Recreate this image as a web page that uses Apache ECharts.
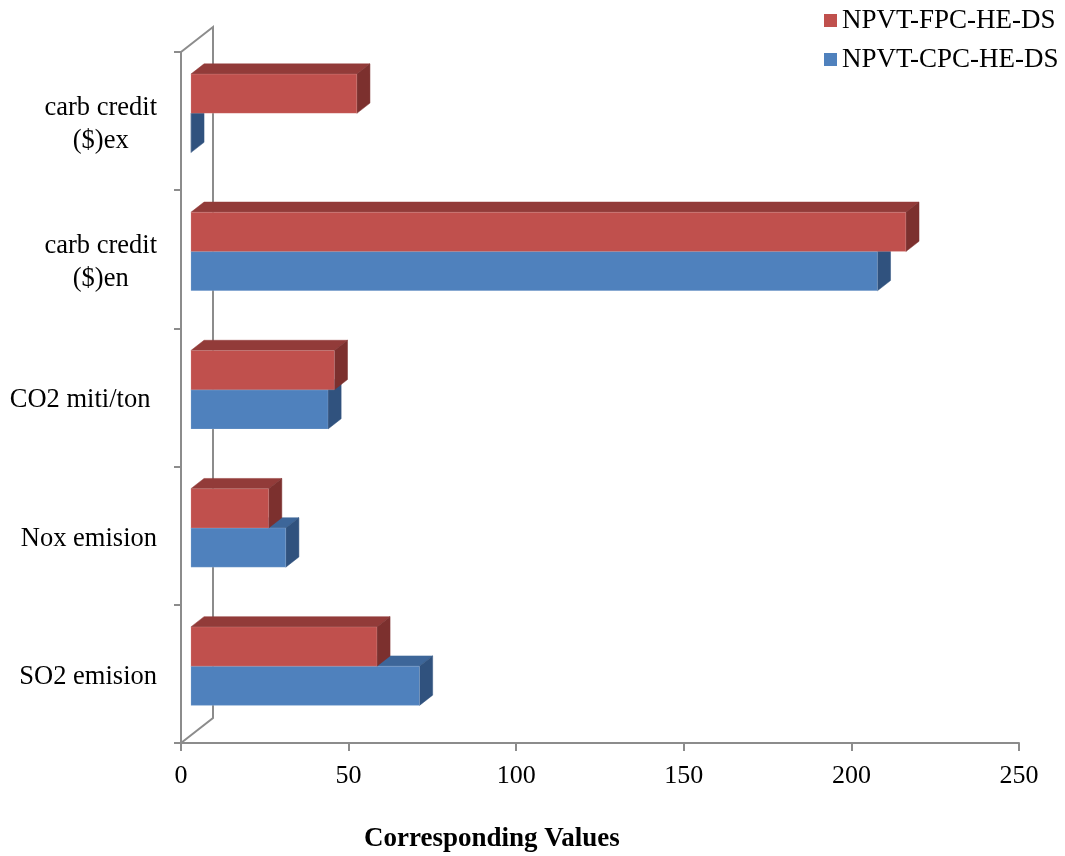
<!DOCTYPE html>
<html>
<head>
<meta charset="utf-8">
<title>NPVT emissions and carbon credit</title>
<script src="https://cdn.jsdelivr.net/npm/echarts@6/dist/echarts.min.js"></script>
<style>
  html, body { margin: 0; padding: 0; background: #ffffff; }
  #chart { width: 1065px; height: 856px; }
</style>
</head>
<body>
<div id="chart"></div>
<script>
// Categories, bottom to top
const categories = ['SO2 emision', 'Nox emision', 'CO2 miti/ton ', 'carb credit\n($)en', 'carb credit\n($)ex'];
// Series values
const cpcValues = [68.2, 28.3, 40.9, 204.8, 0];
const fpcValues = [55.5, 23.2, 42.8, 213.3, 49.5];
// Value-axis ticks
const xTicks = { min: 0, max: 250, interval: 50 };
const seriesNames = ['NPVT-CPC-HE-DS', 'NPVT-FPC-HE-DS'];

const FONT = '"Liberation Serif", "Times New Roman", serif';
const AXIS_GREY = '#8c8c8c';

// 3D projection: full depth of the plot box, and where the bars sit within it
const DEPTH = [32, -25];
const BAR_FRONT = 0.31;   // fraction of depth where the bar front face lies
const BAR_DEPTH = 0.41;   // fraction of depth the bar occupies
const BAR_FRAC = 0.284;   // bar thickness as fraction of the category band

const palette = {
  'NPVT-CPC-HE-DS': { front: '#4F81BD', top: '#3D6699', side: '#30527E' },
  'NPVT-FPC-HE-DS': { front: '#C0504D', top: '#923B39', side: '#7C302E' }
};

function boxRenderer(name, slot) {
  const col = palette[name];
  return function (params, api) {
    const v = api.value(0);
    const idx = api.value(1);
    const p0 = api.coord([0, idx]);
    const p1 = api.coord([v, idx]);
    const band = api.size([0, 1])[1];
    const h = band * BAR_FRAC;
    const fx = DEPTH[0] * BAR_FRONT, fy = DEPTH[1] * BAR_FRONT;
    const dx = DEPTH[0] * BAR_DEPTH, dy = DEPTH[1] * BAR_DEPTH;
    const cy = p0[1] + fy;
    const yTop = slot === 'upper' ? cy - h : cy;
    const yBot = yTop + h;
    const xL = p0[0] + fx;
    const xR = p1[0] + fx;
    return {
      type: 'group',
      children: [
        {
          type: 'polygon',
          shape: { points: [[xL, yTop], [xR, yTop], [xR + dx, yTop + dy], [xL + dx, yTop + dy]] },
          style: { fill: col.top, stroke: col.top, lineWidth: 0.5 }
        },
        {
          type: 'polygon',
          shape: { points: [[xR, yTop], [xR + dx, yTop + dy], [xR + dx, yBot + dy], [xR, yBot]] },
          style: { fill: col.side, stroke: col.side, lineWidth: 0.5 }
        },
        {
          type: 'rect',
          shape: { x: xL, y: yTop, width: xR - xL, height: h },
          style: { fill: col.front, stroke: 'rgba(255,255,255,0.25)', lineWidth: 0.6 }
        }
      ]
    };
  };
}

function toData(values) {
  return values.map(function (v, i) { return [v, i]; });
}

const chart = echarts.init(document.getElementById('chart'), null, { renderer: 'canvas' });

chart.setOption({
  backgroundColor: '#ffffff',
  animation: false,
  title: {
    text: 'Corresponding Values',
    left: 364,
    top: 826,
    padding: 0,
    textStyle: { fontFamily: FONT, fontSize: 27, fontWeight: 'bold', color: '#000' }
  },
  legend: {
    orient: 'vertical',
    left: 819,
    top: 2,
    itemWidth: 13,
    itemHeight: 13,
    itemGap: 12,
    icon: 'rect',
    data: ['NPVT-FPC-HE-DS', 'NPVT-CPC-HE-DS'],
    textStyle: { fontFamily: FONT, fontSize: 27, color: '#000', padding: [0, 0, 0, 0] }
  },
  grid: { left: 181, right: 46, top: 52, bottom: 113, containLabel: false },
  xAxis: {
    type: 'value',
    min: xTicks.min,
    max: xTicks.max,
    interval: xTicks.interval,
    axisLine: { show: true, lineStyle: { color: AXIS_GREY, width: 2 } },
    axisTick: { show: true, length: 8, lineStyle: { color: AXIS_GREY, width: 2 } },
    splitLine: { show: false },
    axisLabel: { fontFamily: FONT, fontSize: 26, color: '#000', margin: 20 }
  },
  yAxis: {
    type: 'category',
    data: categories,
    axisLine: { show: true, lineStyle: { color: AXIS_GREY, width: 2 } },
    axisTick: { show: true, length: 7, lineStyle: { color: AXIS_GREY, width: 2 } },
    splitLine: { show: false },
    axisLabel: {
      margin: 24,
      color: '#000',
      fontFamily: FONT,
      fontSize: 26.5,
      padding: [6, 0, 0, 0],
      formatter: function (v) {
        return v.split('\n').map(function (l) { return '{c|' + l + '}'; }).join('\n');
      },
      rich: { c: { align: 'center', fontFamily: FONT, fontSize: 26.5, lineHeight: 33, color: '#000' } }
    }
  },
  series: [
    {
      // back wall and floor edge of the 3D plot box
      type: 'custom',
      name: 'frame',
      silent: true,
      z: 1,
      data: [[0, 0]],
      renderItem: function (params, api) {
        const cs = params.coordSys;
        const x = cs.x, y = cs.y, h = cs.height;
        return {
          type: 'polyline',
          shape: { points: [[x, y], [x + DEPTH[0], y + DEPTH[1]], [x + DEPTH[0], y + h + DEPTH[1]], [x, y + h]] },
          style: { stroke: AXIS_GREY, lineWidth: 2, fill: null }
        };
      }
    },
    {
      type: 'custom',
      name: seriesNames[0],
      z: 2,
      itemStyle: { color: palette[seriesNames[0]].front },
      data: toData(cpcValues),
      encode: { x: 0, y: 1 },
      renderItem: boxRenderer(seriesNames[0], 'lower')
    },
    {
      type: 'custom',
      name: seriesNames[1],
      z: 3,
      itemStyle: { color: palette[seriesNames[1]].front },
      data: toData(fpcValues),
      encode: { x: 0, y: 1 },
      renderItem: boxRenderer(seriesNames[1], 'upper')
    }
  ]
});
</script>
</body>
</html>
